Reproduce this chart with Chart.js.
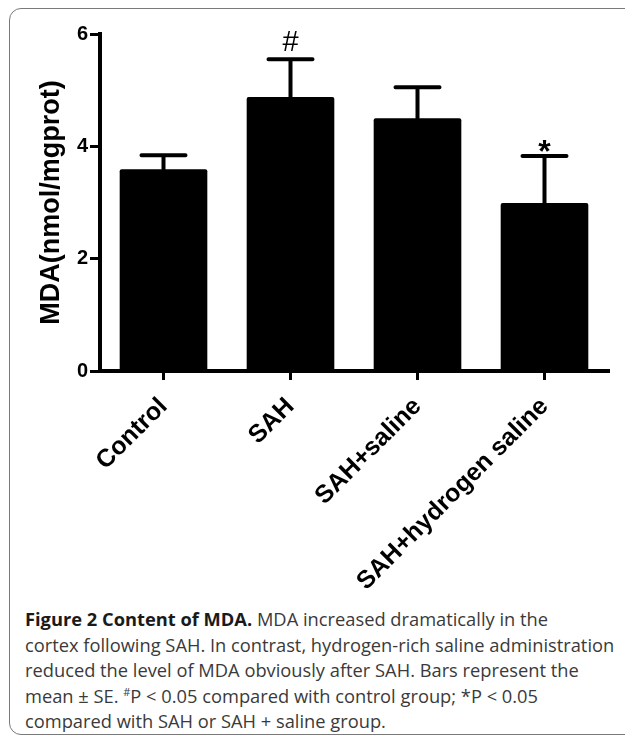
<!DOCTYPE html>
<html>
<head>
<meta charset="utf-8">
<script src="https://cdn.jsdelivr.net/npm/chart.js@4"></script>
<style>
    body { margin: 0; background: #fff; width: 625px; height: 741px; overflow: hidden; position: relative; }
    #marco { position: absolute; left: 9px; top: 8px; width: 640px; height: 727px; border: 1.5px solid #7a7a7a; border-radius: 12px; box-sizing: border-box; }
    #lienzo { position: absolute; left: 0; top: 0; }
    #leyenda { position: absolute; left: 25px; top: 606px; font-family: "Open Sans", sans-serif; font-size: 18.3px; color: #3a3a3a; line-height: 25.5px; }
    #leyenda div { white-space: nowrap; }
    #leyenda b { color: #1a1a1a; }
    #leyenda sup { font-size: 11px; line-height: 0; }
</style>
</head>
<body>
<div id="marco"></div>
<canvas id="lienzo" width="625" height="600"></canvas>
<div id="leyenda">
    <div><b>Figure 2 Content of MDA.</b> MDA increased dramatically in the</div>
    <div>cortex following SAH. In contrast, hydrogen-rich saline administration</div>
    <div>reduced the level of MDA obviously after SAH. Bars represent the</div>
    <div>mean ± SE. <sup>#</sup>P &lt; 0.05 compared with control group; *P &lt; 0.05</div>
    <div>compared with SAH or SAH + saline group.</div>
</div>
<script>
const grupos = ['Control', 'SAH', 'SAH+saline', 'SAH+hydrogen saline'];
const medias = [3.59, 4.88, 4.50, 2.99];
const errores = [0.25, 0.67, 0.55, 0.84];
const marcas = ['', '#', '', '*'];
const ticksY = [0, 2, 4, 6];

const lienzo = document.querySelector('#lienzo');

// barras de error (solo la parte superior) y simbolos de significancia
const barrasError = {
    id: 'barrasError',
    afterDatasetsDraw(chart) {
        const ctx = chart.ctx;
        const x = chart.scales.x;
        const y = chart.scales.y;
        ctx.save();
        ctx.strokeStyle = '#000';
        ctx.fillStyle = '#000';
        ctx.lineCap = 'round';
        medias.forEach((m, i) => {
            const cx = x.getPixelForValue(i);
            const y0 = y.getPixelForValue(m);
            const y1 = y.getPixelForValue(m + errores[i]);
            ctx.lineWidth = 4;
            ctx.beginPath();
            ctx.moveTo(cx, y0);
            ctx.lineTo(cx, y1);
            ctx.moveTo(cx - 22, y1);
            ctx.lineTo(cx + 22, y1);
            ctx.stroke();

            if (marcas[i] === '#') {
                ctx.font = '29px "Liberation Sans", Arial, sans-serif';
                ctx.textAlign = 'center';
                ctx.textBaseline = 'bottom';
                ctx.fillText('#', cx, y1 - 2);
            } else if (marcas[i] === '*') {
                ctx.font = 'bold 32px "Liberation Sans", Arial, sans-serif';
                ctx.textAlign = 'center';
                ctx.textBaseline = 'top';
                ctx.fillText('*', cx, y1 - 19);
            }
        });
        ctx.restore();
    }
};

new Chart(lienzo, {
    type: 'bar',
    data: {
        labels: grupos,
        datasets: [{
            data: medias,
            backgroundColor: '#000',
            borderRadius: 2,
            barPercentage: 0.69,
            categoryPercentage: 1
        }]
    },
    options: {
        responsive: false,
        animation: false,
        layout: { padding: { top: 34, right: 17, left: 0, bottom: 0 } },
        plugins: { legend: { display: false }, tooltip: { enabled: false } },
        scales: {
            x: {
                afterFit: (scale) => { scale.height = 229; },
                grid: { offset: false, drawOnChartArea: false, drawTicks: true, tickLength: 9, color: '#000', lineWidth: 3 },
                border: { color: '#000', width: 4 },
                ticks: {
                    color: '#000',
                    minRotation: 45,
                    maxRotation: 45,
                    padding: 12,
                    font: { family: '"Liberation Sans", Arial, sans-serif', size: 25, weight: 'bold' }
                }
            },
            y: {
                min: 0,
                max: 6,
                afterFit: (scale) => { scale.width = 100; },
                afterBuildTicks: (scale) => { scale.ticks = ticksY.map(v => ({ value: v })); },
                grid: { drawOnChartArea: false, drawTicks: true, tickLength: 10, color: '#000', lineWidth: 3 },
                border: { color: '#000', width: 4 },
                ticks: {
                    color: '#000',
                    padding: 2,
                    font: { family: '"Liberation Sans", Arial, sans-serif', size: 20, weight: 'bold' }
                },
                title: {
                    display: true,
                    text: 'MDA(nmol/mgprot)',
                    color: '#000',
                    padding: { top: 35, bottom: 0 },
                    font: { family: '"Liberation Sans", Arial, sans-serif', size: 27, weight: 'bold' }
                }
            }
        }
    },
    plugins: [barrasError]
});
</script>
</body>
</html>
